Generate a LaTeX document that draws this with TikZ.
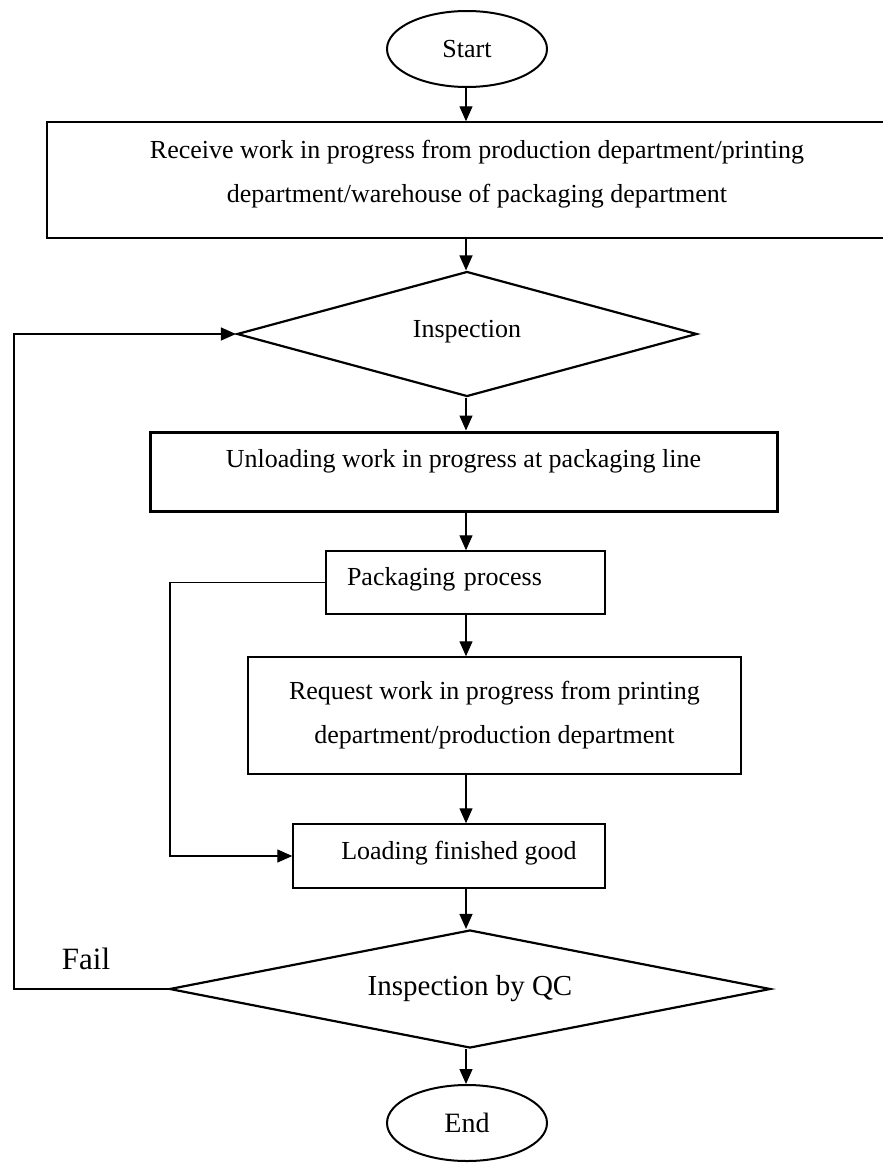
\documentclass[tikz,border=0pt]{standalone}
\usepackage{fontspec}
\setmainfont{Liberation Serif}
\usetikzlibrary{shapes.geometric,arrows.meta}
\begin{document}
\begin{tikzpicture}[x=1pt,y=1pt,
  conn/.style={line width=1.3pt},
  arr/.style={conn,-{Triangle[length=15pt,width=13pt]}},
  term/.style={ellipse,draw,line width=2pt,minimum width=160pt,minimum height=76pt,inner sep=0pt,font=\fontsize{26}{30}\selectfont},
  proc/.style={rectangle,draw,line width=1.5pt,inner sep=0pt,font=\fontsize{26}{44}\selectfont},
  dec/.style={diamond,draw,line width=2.2pt,inner sep=0pt,font=\fontsize{26}{30}\selectfont},
  txt/.style={font=\fontsize{26}{44}\selectfont,align=center,inner sep=0pt}]
\useasboundingbox (0,0) rectangle (883,-1167);
\clip (0,0) rectangle (883,-1167);
\fill[white] (0,0) rectangle (883,-1167);
\coordinate (cx) at (466,0);
\coordinate (lx) at (170,0);
\coordinate (fx) at (14,0);

\node[term] (start) at (467,-49) {Start};
\node[proc,minimum width=880pt,minimum height=116pt,anchor=west] (box1) at (46,-180) {};
\node[txt] (box1t) at (477,-174) {Receive work in progress from production department/printing\\department/warehouse of packaging department};
\node[dec,minimum width=460pt,minimum height=125pt,shape aspect=3.7,text height=12pt,text depth=6pt] (dec1) at (467,-334) {Inspection};
\node[proc,line width=3pt,minimum width=627pt,minimum height=79pt,text height=10pt,text depth=19pt] (box2) at (463.5,-471.5) {Unloading work in progress at packaging line};
\node[proc,minimum width=279pt,minimum height=63pt,text width=237pt,inner xsep=21pt,align=left,text height=15pt,text depth=10pt] (box3) at (465.5,-582.5) {Packaging process};
\node[proc,minimum width=493pt,minimum height=117pt,align=center] (box4) at (494.5,-715.5) {Request work in progress from printing\\department/production department};
\node[proc,minimum width=312pt,minimum height=64pt,text height=16pt,text depth=10pt] (box5) at (449,-856) {\hspace*{20pt}Loading finished good};
\node[dec,minimum width=601pt,minimum height=118pt,shape aspect=5.1,font=\fontsize{29}{33}\selectfont] (dec2) at (470,-989) {Inspection by QC};
\node[term,font=\fontsize{28}{32}\selectfont] (end) at (467,-1123) {End};
\node[font=\fontsize{31}{35}\selectfont,inner sep=0pt] (fail) at (86,-959) {Fail};

\draw[arr] (cx |- start.south) -- (cx |- box1.north);
\draw[arr] (cx |- box1.south) -- (cx |- dec1.north);
\draw[arr] (cx |- dec1.south) -- (cx |- box2.north);
\draw[arr] (cx |- box2.south) -- (cx |- box3.north);
\draw[arr] (cx |- box3.south) -- (cx |- box4.north);
\draw[arr] (cx |- box4.south) -- (cx |- box5.north);
\draw[arr] (cx |- box5.south) -- (cx |- dec2.north);
\draw[arr] (cx |- dec2.south) -- (cx |- end.north);
\draw[arr] (box3.west) -- (lx |- box3.west) -- (lx |- box5.west) -- (box5.west);
\draw[arr] (dec2.west) -- (fx |- dec2.west) -- (fx |- dec1.west) -- (dec1.west);
\end{tikzpicture}
\end{document}
